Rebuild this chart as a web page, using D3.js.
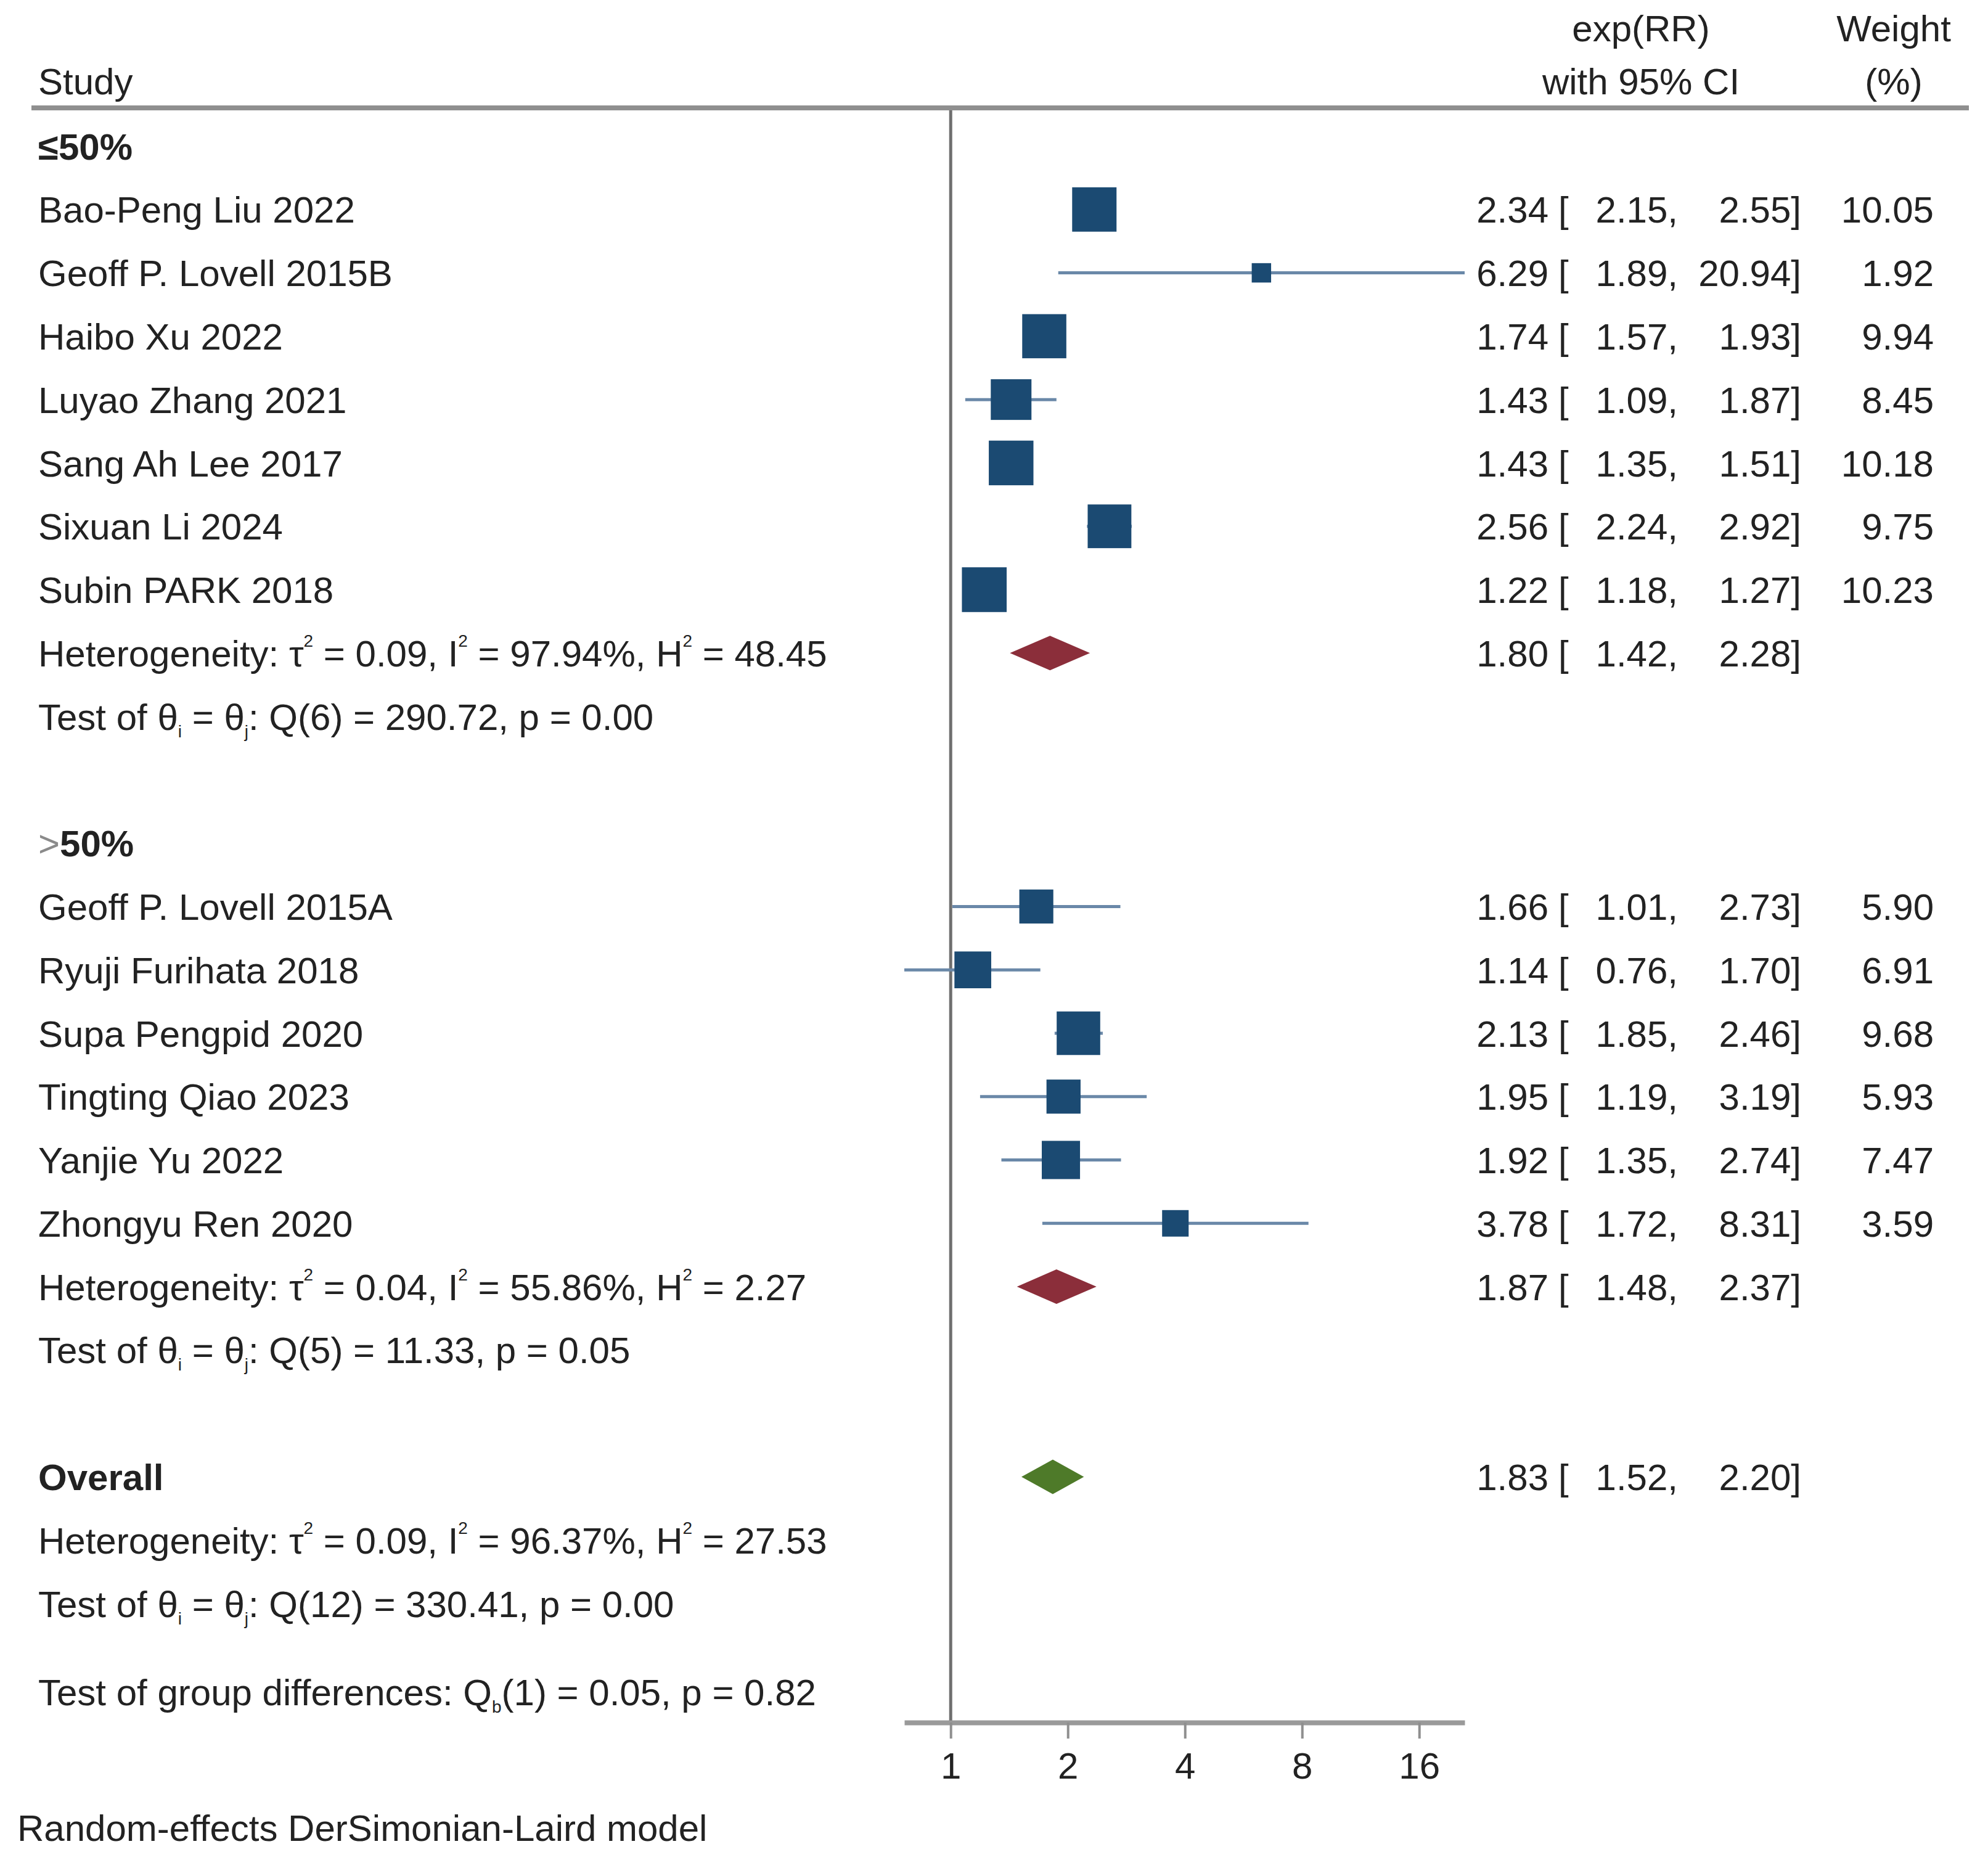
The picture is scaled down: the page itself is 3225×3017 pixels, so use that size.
<!DOCTYPE html>
<html>
<head>
<meta charset="utf-8">
<script src="https://cdn.jsdelivr.net/npm/d3@7"></script>
<style>
  body { margin: 0; background: #fff; }
  svg text { font-family: "Liberation Sans", Arial, sans-serif; fill: #222; }
</style>
</head>
<body>
<svg id="forest"></svg>
<script>
// study rows, subgroup <=50%
const names1 = ["Bao-Peng Liu 2022", "Geoff P. Lovell 2015B", "Haibo Xu 2022", "Luyao Zhang 2021",
  "Sang Ah Lee 2017", "Sixuan Li 2024", "Subin PARK 2018"];
const est1 = [2.34, 6.29, 1.74, 1.43, 1.43, 2.56, 1.22];
const lo1 = [2.15, 1.89, 1.57, 1.09, 1.35, 2.24, 1.18];
const hi1 = [2.55, 20.94, 1.93, 1.87, 1.51, 2.92, 1.27];
const wt1 = [10.05, 1.92, 9.94, 8.45, 10.18, 9.75, 10.23];

// study rows, subgroup >50%
const names2 = ["Geoff P. Lovell 2015A", "Ryuji Furihata 2018", "Supa Pengpid 2020", "Tingting Qiao 2023",
  "Yanjie Yu 2022", "Zhongyu Ren 2020"];
const est2 = [1.66, 1.14, 2.13, 1.95, 1.92, 3.78];
const lo2 = [1.01, 0.76, 1.85, 1.19, 1.35, 1.72];
const hi2 = [2.73, 1.70, 2.46, 3.19, 2.74, 8.31];
const wt2 = [5.90, 6.91, 9.68, 5.93, 7.47, 3.59];

// pooled results: subgroup 1, subgroup 2, overall
const poolEst = [1.80, 1.87, 1.83];
const poolLo = [1.42, 1.48, 1.52];
const poolHi = [2.28, 2.37, 2.20];
const tau2 = ["0.09", "0.04", "0.09"];
const isq = ["97.94", "55.86", "96.37"];
const hsq = ["48.45", "2.27", "27.53"];
const qDf = ["6", "5", "12"];
const qVal = ["290.72", "11.33", "330.41"];
const pVal = ["0.00", "0.05", "0.00"];
const groupDiff = { df: "1", q: "0.05", p: "0.82" };

const tickValues = [1, 2, 4, 8, 16];

// settings
const width = 3225, height = 3017;
const fs = 60;
const col = { study: 62, est: 2512, brk: 2528, lo: 2722, hi: 2922, wt: 3137, hdrCI: 2662, hdrW: 3072 };
const colors = {
  square: "#1b4a72", ci: "#6a88a8", subDiamond: "#8b2e3a", allDiamond: "#4e7a29",
  ref: "#6f6f6f", rule: "#8f8f8f", axis: "#9a9a9a"
};
const f2 = d3.format(".2f");

const svg = d3.select("#forest").attr("width", width).attr("height", height);
svg.append("rect").attr("width", width).attr("height", height).attr("fill", "#fff");

// scales
const xScale = d3.scaleLog().base(2).domain([0.76, 20.94]).range([1467, 2376]);
const yRow = d3.scaleLinear().domain([0, 23]).range([237, 2601]);
const axisY = 2794;
const base = (r) => yRow(r) + fs * 0.36;

// rich text with superscripts / subscripts
function rich(x, y, parts, weight) {
  const t = svg.append("text").attr("x", x).attr("y", y).attr("font-size", fs)
    .attr("font-weight", weight || "normal");
  let shift = 0;
  parts.forEach(([s, kind]) => {
    const target = kind === "sup" ? -32 : kind === "sub" ? 12 : 0;
    t.append("tspan")
      .attr("dy", target - shift)
      .attr("font-size", kind ? 28 : fs)
      .text(s);
    shift = target;
  });
  return t;
}

function label(x, y, s, anchor, weight) {
  return svg.append("text").attr("x", x).attr("y", y).attr("font-size", fs)
    .attr("text-anchor", anchor || "start").attr("font-weight", weight || "normal").text(s);
}

// header
label(col.hdrCI, 45 + fs * 0.36, "exp(RR)", "middle");
label(col.hdrCI, 131 + fs * 0.36, "with 95% CI", "middle");
label(col.hdrW, 45 + fs * 0.36, "Weight", "middle");
label(col.hdrW, 131 + fs * 0.36, "(%)", "middle");
label(col.study, 131 + fs * 0.36, "Study");
svg.append("line").attr("x1", 51).attr("x2", 3194).attr("y1", 175).attr("y2", 175)
  .attr("stroke", colors.rule).attr("stroke-width", 8);

// reference line at 1
svg.append("line").attr("x1", xScale(1)).attr("x2", xScale(1))
  .attr("y1", 179).attr("y2", axisY)
  .attr("stroke", colors.ref).attr("stroke-width", 5);

// build study table
const studies = [
  ...names1.map((n, i) => ({ name: n, est: est1[i], lo: lo1[i], hi: hi1[i], wt: wt1[i], row: 1 + i })),
  ...names2.map((n, i) => ({ name: n, est: est2[i], lo: lo2[i], hi: hi2[i], wt: wt2[i], row: 12 + i }))
];

function ciText(r, e, l, h) {
  label(col.est, base(r), f2(e), "end");
  label(col.brk, base(r), "[");
  label(col.lo, base(r), f2(l) + ",", "end");
  label(col.hi, base(r), f2(h) + "]", "end");
}

// CI lines
svg.append("g").selectAll("line").data(studies).join("line")
  .attr("x1", (d) => xScale(d.lo)).attr("x2", (d) => xScale(d.hi))
  .attr("y1", (d) => yRow(d.row)).attr("y2", (d) => yRow(d.row))
  .attr("stroke", colors.ci).attr("stroke-width", 5);

// weighted squares
const side = (w) => 22.7 * Math.sqrt(w);
svg.append("g").selectAll("rect").data(studies).join("rect")
  .attr("x", (d) => xScale(d.est) - side(d.wt) / 2)
  .attr("y", (d) => yRow(d.row) - side(d.wt) / 2)
  .attr("width", (d) => side(d.wt)).attr("height", (d) => side(d.wt))
  .attr("fill", colors.square);

studies.forEach((d) => {
  label(col.study, base(d.row), d.name);
  ciText(d.row, d.est, d.lo, d.hi);
  label(col.wt, base(d.row), f2(d.wt), "end");
});

// group headings
label(col.study, base(0), "≤50%", "start", "bold");
const gt = svg.append("text").attr("x", col.study).attr("y", base(11)).attr("font-size", fs);
gt.append("tspan").style("fill", "#8a8a8a").text(">");
gt.append("tspan").attr("font-weight", "bold").text("50%");
label(col.study, base(21), "Overall", "start", "bold");

// pooled diamonds
const poolRows = [8, 18, 21];
const diamond = (i) => {
  const y = yRow(poolRows[i]), h = 28;
  return `M${xScale(poolLo[i])},${y} L${xScale(poolEst[i])},${y - h} L${xScale(poolHi[i])},${y} L${xScale(poolEst[i])},${y + h} Z`;
};
svg.append("g").selectAll("path").data([0, 1, 2]).join("path")
  .attr("d", diamond)
  .attr("fill", (i) => (i === 2 ? colors.allDiamond : colors.subDiamond));
poolRows.forEach((r, i) => ciText(r, poolEst[i], poolLo[i], poolHi[i]));

// heterogeneity and tests
const hetRows = [8, 18, 22];
const testRows = [9, 19, 23];
hetRows.forEach((r, i) => {
  rich(col.study, base(r), [
    ["Heterogeneity: τ"], ["2", "sup"], [` = ${tau2[i]}, I`], ["2", "sup"],
    [` = ${isq[i]}%, H`], ["2", "sup"], [` = ${hsq[i]}`]
  ]);
});
testRows.forEach((r, i) => {
  rich(col.study, base(r), [
    ["Test of θ"], ["i", "sub"], [" = θ"], ["j", "sub"],
    [`: Q(${qDf[i]}) = ${qVal[i]}, p = ${pVal[i]}`]
  ]);
});
rich(col.study, base(24.4), [
  ["Test of group differences: Q"], ["b", "sub"],
  [`(${groupDiff.df}) = ${groupDiff.q}, p = ${groupDiff.p}`]
]);

// x axis
const xAxis = d3.axisBottom(xScale).tickValues(tickValues).tickFormat(d3.format("d"))
  .tickSizeInner(26).tickSizeOuter(0).tickPadding(22);
const axisG = svg.append("g").attr("transform", `translate(0, ${axisY})`).call(xAxis);
axisG.select(".domain").attr("stroke", colors.axis).attr("stroke-width", 8);
axisG.selectAll(".tick line").attr("stroke", colors.rule).attr("stroke-width", 4);
axisG.selectAll(".tick text").attr("font-size", fs).attr("fill", "#222")
  .attr("font-family", "Liberation Sans, Arial, sans-serif");

// note
label(28, 2964 + fs * 0.36, "Random-effects DerSimonian-Laird model");
</script>
</body>
</html>
